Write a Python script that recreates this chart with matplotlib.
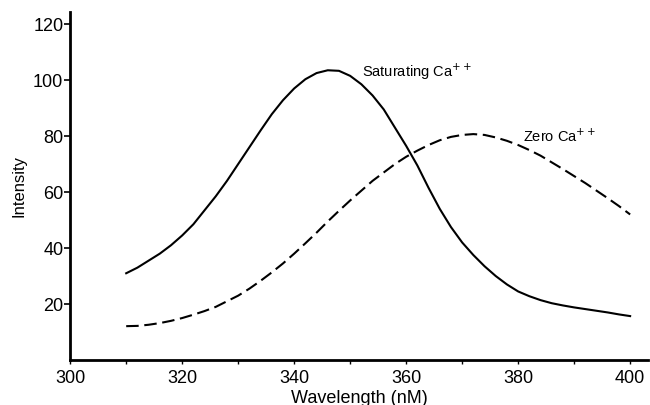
import numpy as np
import matplotlib.pyplot as plt

plt.rcParams["font.family"] = ["Liberation Sans", "DejaVu Sans"]

# Saturating Ca++ (solid)
sat_wl = [310, 312, 314, 316, 318, 320, 322, 324, 326, 328, 330, 332, 334, 336,
          338, 340, 342, 344, 346, 348, 350, 352, 354, 356, 358, 360, 362, 364,
          366, 368, 370, 372, 374, 376, 378, 380, 382, 384, 386, 388, 390, 392,
          394, 396, 398, 400]
sat_int = [31, 33, 35.5, 38, 41, 44.5, 48.5, 53.5, 58.5, 64, 70, 76, 82, 87.8,
           92.8, 97, 100.3, 102.5, 103.5, 103.3, 101.5, 98.5, 94.5, 89.5, 83, 76.5, 69.5, 61.5,
           54, 47.5, 42, 37.5, 33.5, 30, 27, 24.5, 22.8, 21.4, 20.3, 19.5, 18.8, 18.2,
           17.6, 17, 16.3, 15.7]

# Zero Ca++ (dashed)
zero_wl = [310, 312, 314, 316, 318, 320, 322, 324, 326, 328, 330, 332, 334, 336,
           338, 340, 342, 344, 346, 348, 350, 352, 354, 356, 358, 360, 362, 364,
           366, 368, 370, 372, 374, 376, 378, 380, 382, 384, 386, 388, 390, 392,
           394, 396, 398, 400]
zero_int = [12.1, 12.2, 12.6, 13.2, 14, 15, 16.2, 17.5, 19, 21, 23, 25.5, 28.3, 31.3,
            34.5, 38, 41.7, 45.5, 49.5, 53.3, 57, 60.5, 64, 67, 70, 72.6, 74.8, 76.8,
            78.5, 79.7, 80.4, 80.7, 80.4, 79.5, 78.3, 76.8, 75, 73, 70.6, 68.2, 65.7, 63.2,
            60.5, 57.8, 55, 52]

xticks = [300, 320, 340, 360, 380, 400]
yticks = [20, 40, 60, 80, 100, 120]

if __name__ == "__main__":
    fig = plt.figure(figsize=(6.5, 4.05), dpi=100)
    ax = fig.add_axes([0.108, 0.111, 0.889, 0.86])

    ax.plot(sat_wl, sat_int, "k-", lw=1.5)
    ax.plot(zero_wl, zero_int, color="k", lw=1.5, linestyle=(0, (6, 2.7)))

    ax.text(352.1, 102.9, "Saturating Ca$^{++}$", fontsize=10.5, va="center")
    ax.text(380.9, 80, "Zero Ca$^{++}$", fontsize=10.5, va="center")

    ax.set_xlim(300, 403.2)
    ax.set_ylim(0, 124.4)
    ax.set_xticks(xticks)
    ax.set_xticks(np.arange(310, 401, 20), minor=True)
    ax.set_yticks(yticks)
    ax.tick_params(axis="both", labelsize=13, direction="out")
    ax.tick_params(axis="y", length=4, width=1.2, pad=1)
    ax.tick_params(axis="x", which="both", length=3, width=1.0, pad=4)

    ax.spines["top"].set_visible(False)
    ax.spines["right"].set_visible(False)
    ax.spines["left"].set_linewidth(2)
    ax.spines["bottom"].set_linewidth(2)

    ax.set_xlabel("Wavelength (nM)", fontsize=13, labelpad=2)
    ax.set_ylabel("Intensity", fontsize=12, labelpad=5)

    fig.savefig("out.png")
